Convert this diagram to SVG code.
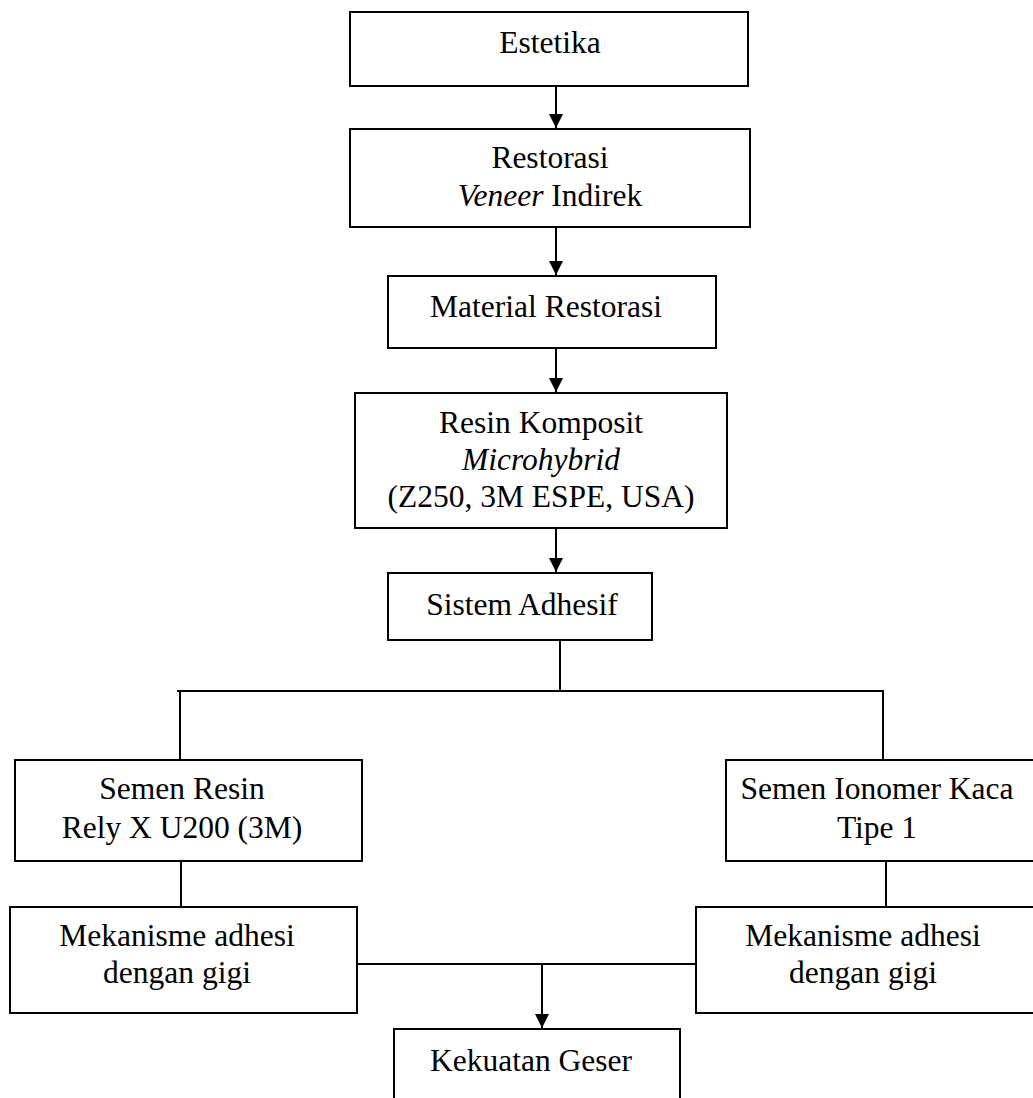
<svg xmlns="http://www.w3.org/2000/svg" width="1033" height="1098" viewBox="0 0 1033 1098">
<style>
.box{fill:#fff;stroke:#000;stroke-width:2}
.t{font-family:"Liberation Serif","Times New Roman",serif;font-size:31.5px;fill:#000;text-anchor:middle}
.i{font-style:italic}
.c{fill:none;stroke:#000;stroke-width:2}
</style>
<defs>
<marker id="ah" markerUnits="userSpaceOnUse" markerWidth="16" markerHeight="16" viewBox="0 0 16 16" refX="14" refY="8" orient="auto">
<path d="M0,1 L14,8 L0,15 Z" fill="#000"/>
</marker>
</defs>
<rect width="1033" height="1098" fill="#fff"/>
<g id="connectors">
<line class="c" x1="556" y1="86" x2="556" y2="128" marker-end="url(#ah)"/>
<line class="c" x1="556" y1="227" x2="556" y2="275" marker-end="url(#ah)"/>
<line class="c" x1="556" y1="348" x2="556" y2="392" marker-end="url(#ah)"/>
<line class="c" x1="556" y1="528" x2="556" y2="572" marker-end="url(#ah)"/>
<line class="c" x1="560" y1="640" x2="560" y2="691"/>
<line class="c" x1="177" y1="691" x2="884" y2="691"/>
<line class="c" x1="180" y1="691" x2="180" y2="760"/>
<line class="c" x1="883" y1="691" x2="883" y2="760"/>
<line class="c" x1="181" y1="861" x2="181" y2="907"/>
<line class="c" x1="886" y1="861" x2="886" y2="907"/>
<line class="c" x1="357" y1="964" x2="696" y2="964"/>
<line class="c" x1="542" y1="964" x2="542" y2="1028" marker-end="url(#ah)"/>
</g>
<g id="estetika">
<rect class="box" x="350" y="12" width="398" height="74"/>
<text class="t" x="550" y="53">Estetika</text>
</g>
<g id="restorasi">
<rect class="box" x="350" y="129" width="400" height="98"/>
<text class="t" x="550" y="168">Restorasi</text>
<text class="t" x="550" y="206"><tspan class="i">Veneer</tspan> Indirek</text>
</g>
<g id="material">
<rect class="box" x="388" y="276" width="328" height="72"/>
<text class="t" x="546" y="317">Material Restorasi</text>
</g>
<g id="resin">
<rect class="box" x="355" y="393" width="372" height="135"/>
<text class="t" x="541" y="433">Resin Komposit</text>
<text class="t i" x="541" y="470">Microhybrid</text>
<text class="t" x="541" y="507">(Z250, 3M ESPE, USA)</text>
</g>
<g id="sistem">
<rect class="box" x="388" y="573" width="264" height="67"/>
<text class="t" x="522" y="615">Sistem Adhesif</text>
</g>
<g id="semen-resin">
<rect class="box" x="15" y="760" width="347" height="101"/>
<text class="t" x="182" y="799">Semen Resin</text>
<text class="t" x="182" y="838">Rely X U200 (3M)</text>
</g>
<g id="semen-ionomer">
<rect class="box" x="726" y="760" width="320" height="101"/>
<text class="t" x="877" y="799">Semen Ionomer Kaca</text>
<text class="t" x="877" y="838">Tipe 1</text>
</g>
<g id="mekanisme-kiri">
<rect class="box" x="10" y="907" width="347" height="106"/>
<text class="t" x="177" y="946">Mekanisme adhesi</text>
<text class="t" x="177" y="983">dengan gigi</text>
</g>
<g id="mekanisme-kanan">
<rect class="box" x="696" y="907" width="350" height="106"/>
<text class="t" x="863" y="946">Mekanisme adhesi</text>
<text class="t" x="863" y="983">dengan gigi</text>
</g>
<g id="kekuatan">
<rect class="box" x="394" y="1029" width="286" height="80"/>
<text class="t" x="531" y="1071">Kekuatan Geser</text>
</g>
</svg>
